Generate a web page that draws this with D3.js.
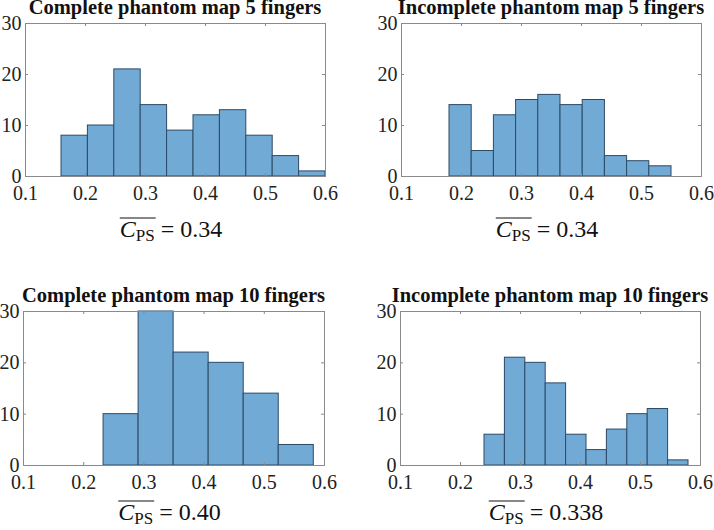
<!DOCTYPE html>
<html>
<head>
<meta charset="utf-8">
<script src="https://cdn.jsdelivr.net/npm/d3@7"></script>
<style>
  body { margin: 0; background: #fff; }
  svg { display: block; }
  svg text { font-family: 'Liberation Serif', 'Times New Roman', serif; }
</style>
</head>
<body>
<div id="plot"></div>
<script>
// histogram data
const titles = [
  "Complete phantom map 5 fingers",
  "Incomplete phantom map 5 fingers",
  "Complete phantom map 10 fingers",
  "Incomplete phantom map 10 fingers"
];
const meanLabels = ["0.34", "0.34", "0.40", "0.338"];
const binStart = [0.16, 0.18, 0.233, 0.24];
const binWidth = [0.044, 0.037, 0.0582, 0.034];
const counts = [
  [8, 10, 21, 14, 9, 12, 13, 8, 4, 1],
  [14, 5, 12, 15, 16, 14, 15, 4, 3, 2],
  [10, 30, 22, 20, 14, 4],
  [6, 21, 20, 16, 6, 3, 7, 10, 11, 1]
];
const xTicks = [0.1, 0.2, 0.3, 0.4, 0.5, 0.6];
const yTicks = [0, 10, 20, 30];

// panel frames (plot area in px) and baseline of the mean label
const frames = [
  {x: 25, y: 23, w: 300, h: 153, ly: 237},
  {x: 401, y: 23, w: 300, h: 153, ly: 237},
  {x: 23, y: 311, w: 301, h: 154, ly: 520},
  {x: 400, y: 311, w: 300, h: 154, ly: 520}
];

const svg = d3.select("#plot").append("svg")
  .attr("width", 714)
  .attr("height", 530);

const serif = "'Liberation Serif', 'Times New Roman', serif";
const axisColor = "#8a8a8a";

frames.forEach((f, i) => {
  const x = d3.scaleLinear().domain([0.1, 0.6]).range([f.x, f.x + f.w]);
  const y = d3.scaleLinear().domain([0, 30]).range([f.y + f.h, f.y]);
  const g = svg.append("g");

  const bins = counts[i].map((c, k) => ({
    x0: binStart[i] + k * binWidth[i],
    x1: binStart[i] + (k + 1) * binWidth[i],
    n: c
  }));

  g.selectAll("rect.bar")
    .data(bins)
    .enter().append("rect")
    .attr("class", "bar")
    .attr("x", d => x(d.x0))
    .attr("y", d => y(d.n))
    .attr("width", d => x(d.x1) - x(d.x0))
    .attr("height", d => y(0) - y(d.n))
    .attr("fill", "#72aad6")
    .attr("stroke", "#2c4a66")
    .attr("stroke-width", 1);

  // axes, ticks inward like matlab
  const axB = g.append("g").attr("transform", `translate(0,${f.y + f.h})`)
    .call(d3.axisBottom(x).tickValues(xTicks).tickSize(-3).tickPadding(9.5).tickFormat(d3.format(".1f")));
  const axT = g.append("g").attr("transform", `translate(0,${f.y})`)
    .call(d3.axisTop(x).tickValues(xTicks).tickSize(-3).tickFormat(""));
  const axL = g.append("g").attr("transform", `translate(${f.x},0)`)
    .call(d3.axisLeft(y).tickValues(yTicks).tickSize(-3).tickPadding(3.5));
  const axR = g.append("g").attr("transform", `translate(${f.x + f.w},0)`)
    .call(d3.axisRight(y).tickValues(yTicks).tickSize(-3).tickFormat(""));

  [axB, axT, axL, axR].forEach(a => {
    a.attr("font-family", serif);
    a.select(".domain").attr("stroke", axisColor).attr("stroke-width", 1);
    a.selectAll(".tick line").attr("stroke", axisColor);
    a.selectAll("text")
      .attr("fill", "#222")
      .style("font-family", serif)
      .style("font-size", "20px");
  });

  // title
  g.append("text")
    .attr("x", f.x + f.w / 2)
    .attr("y", f.y - 9)
    .attr("text-anchor", "middle")
    .style("font-family", serif)
    .style("font-weight", "bold")
    .style("font-size", "20.5px")
    .attr("fill", "#111")
    .text(titles[i]);

  // mean label C_PS with overline
  const ty = f.ly;
  const lab = g.append("text")
    .attr("y", ty)
    .style("font-family", serif)
    .style("font-size", "24px")
    .attr("fill", "#111");
  lab.append("tspan").style("font-style", "italic").text("C");
  lab.append("tspan").attr("dy", 4).style("font-size", "17px").text("PS");
  lab.append("tspan").attr("dy", -4).text(" = " + meanLabels[i]);

  const w = lab.node().getComputedTextLength();
  const x0 = f.x + f.w / 2 - w / 2 - 4;
  lab.attr("x", x0);
  const end = lab.node().getEndPositionOfChar(2).x;
  g.append("line")
    .attr("x1", x0)
    .attr("x2", end + 1)
    .attr("y1", ty - 19)
    .attr("y2", ty - 19)
    .attr("stroke", "#111")
    .attr("stroke-width", 1.2);
});
</script>
</body>
</html>
